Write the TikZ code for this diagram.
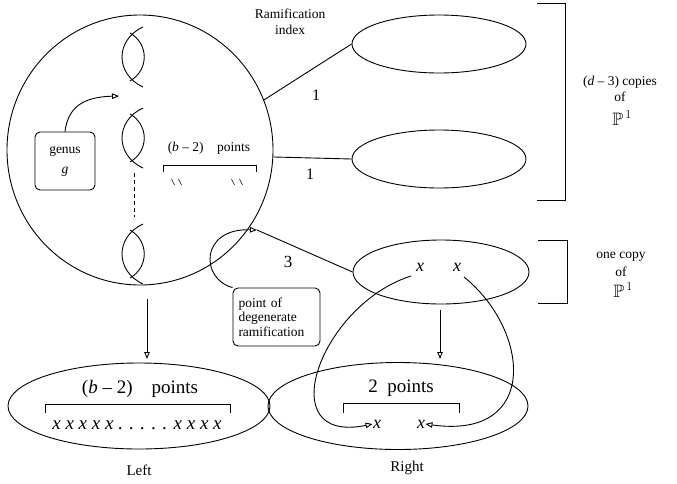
\documentclass[tikz,border=0pt]{standalone}
\usepackage{fontspec}
\setmainfont{Liberation Serif}
\usepackage{amssymb}
\usetikzlibrary{shapes.geometric,arrows.meta}
\begin{document}
\begin{tikzpicture}[x=1pt,y=-1pt,line width=0.9pt,
  oval/.style={draw,ellipse,inner sep=0pt},
  lbl/.style={inner sep=0pt,font=\fontsize{13.5}{15}\selectfont},
  num/.style={inner sep=0pt,font=\fontsize{16}{18}\selectfont},
  big/.style={inner sep=0pt,font=\fontsize{19}{22}\selectfont},
  pbb/.style={inner sep=0pt,font=\fontsize{18}{20}\selectfont},
  tip/.style={-{Triangle[open,length=7pt,width=5.5pt]}},
  rbox/.style={draw,rounded corners=5pt,inner sep=0pt,minimum height=58pt},
  handle/.pic={
    \draw (10,-30) .. controls (-18,-17) and (-18,17) .. (10,30);
    \draw (-3,-24) .. controls (16,-13) and (16,13) .. (-3,24);
  }]
\useasboundingbox (0,0) rectangle (677,483);
% main surface
\node[oval,minimum width=266pt,minimum height=270pt] (C) at (140,150) {};
\pic at (133,57) {handle};
\pic at (133,138) {handle};
\pic at (133,254) {handle};
\coordinate (d1) at (134,173);
\coordinate (d2) at (134,217);
\draw[dash pattern=on 4pt off 3pt,line width=0.7pt] (d1) -- (d2);
% genus box
\node[rbox,minimum width=60pt,align=center,font=\fontsize{13.5}{20}\selectfont] (G) at (65,161) {genus\\\textit{g}};
\coordinate (gt) at (119,96);
\draw[tip] (G.north) .. controls (68,108) and (82,97) .. (gt);
% points inside
\node[lbl] (bp) at (209,148) {(\textit{b} – 2)\quad points};
\coordinate (br1) at (163,172);
\coordinate (br2) at (256,172);
\draw[line width=0.7pt] (br1) -- (163,165) -- (256,165) -- (br2);
\foreach \mx in {173,180,233,241}{\draw[line width=0.6pt] (\mx-1.5,179) -- (\mx+1.5,185);}
% P1 components
\node[oval,minimum width=174pt,minimum height=58pt] (E1) at (439,44) {};
\node[oval,minimum width=174pt,minimum height=58pt] (E2) at (439,159) {};
\node[oval,minimum width=176pt,minimum height=64pt] (E3) at (441,272) {};
\draw (C.22) -- (E1.west);
\draw (C.-3) -- (E2.west);
\node[lbl,align=center,font=\fontsize{13.5}{16}\selectfont] (ri) at (290,22) {Ramification\\index};
\node[num] (n1) at (316,95) {1};
\node[num] (n2) at (310,174) {1};
\node[num,font=\fontsize{17}{19}\selectfont] (n3) at (288,262) {3};
% degenerate point
\node[rbox,minimum width=87pt,align=left,text width=76pt,font=\fontsize{13.5}{14.5}\selectfont] (D) at (276.5,317) {point of\\degenerate\\ramification};
\coordinate (p3) at (257,230);
\draw[tip] (D.north west) .. controls (200,279) and (200,228) .. (p3);
\draw (p3) -- (E3.west);
% x points on the copy
\node[big,font=\fontsize{18}{20}\selectfont\itshape] (tx1) at (420,267) {x};
\node[big,font=\fontsize{18}{20}\selectfont\itshape] (tx2) at (457,267) {x};
% brackets on the right
\coordinate (b1a) at (537,3);
\coordinate (b1b) at (537,200);
\draw[line width=0.7pt] (b1a) -- (565,3) -- (565,200) -- (b1b);
\coordinate (b2a) at (538,240);
\coordinate (b2b) at (538,303);
\draw[line width=0.7pt] (b2a) -- (567,240) -- (567,303) -- (b2b);
\node[lbl] (dc1) at (620,82) {(\textit{d} – 3) copies};
\node[lbl] (dc2) at (620,97) {of};
\node[pbb] (dc3) at (622,118) {$\mathbb{P}^{\,1}$};
\node[lbl] (oc1) at (621,257) {one copy};
\node[lbl] (oc2) at (621,272) {of};
\node[pbb] (oc3) at (623,290) {$\mathbb{P}^{\,1}$};
% bottom curves
\node[oval,minimum width=262pt,minimum height=86pt] (L) at (139,406) {};
\node[oval,minimum width=260pt,minimum height=87pt] (R) at (398,406) {};
\coordinate (la1) at (147,299);
\coordinate (la2) at (147,359);
\draw[tip] (la1) -- (la2);
\coordinate (ra1) at (440,310);
\coordinate (ra2) at (440,359);
\draw[tip] (ra1) -- (ra2);
\node[big] (lp) at (140,389) {(\textit{b} – 2)\quad points};
\coordinate (lb1) at (45,413);
\coordinate (lb2) at (230,413);
\draw[line width=0.7pt] (lb1) -- (45,404) -- (230,404) -- (lb2);
\node[big,font=\fontsize{19}{20}\selectfont\itshape] (lx) at (137,425) {x x x x x . . . . . x x x x};
\node[big] (rp) at (401,388) {2\ \ points};
\coordinate (rb1) at (343,413);
\coordinate (rb2) at (459,413);
\draw[line width=0.7pt] (rb1) -- (343,403) -- (459,403) -- (rb2);
\node[big,font=\fontsize{18}{20}\selectfont\itshape] (bx1) at (377,424) {x};
\node[big,font=\fontsize{18}{20}\selectfont\itshape] (bx2) at (421,424) {x};
\draw[tip] (411,276) .. controls (320,305) and (270,445) .. (bx1.west);
\draw[tip] (464,277) .. controls (530,330) and (540,440) .. (bx2.east);
\node[lbl,font=\fontsize{15}{17}\selectfont] (lt) at (139,470) {Left};
\node[lbl,font=\fontsize{15}{17}\selectfont] (rt) at (407,468) {Right};
\end{tikzpicture}
\end{document}
